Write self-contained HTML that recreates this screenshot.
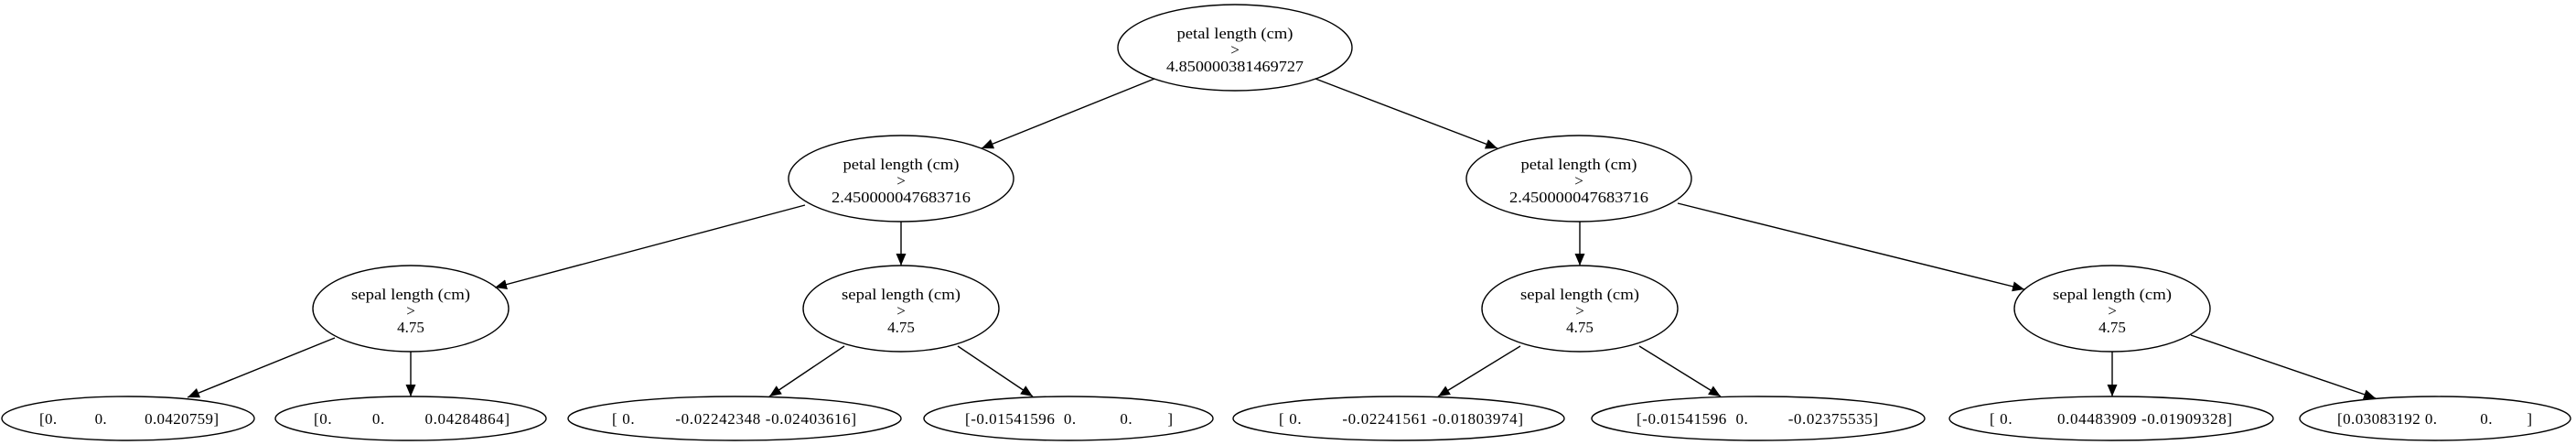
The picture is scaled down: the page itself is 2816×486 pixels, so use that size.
<!DOCTYPE html>
<html><head><meta charset="utf-8"><style>
html,body{margin:0;padding:0;background:#fff;}
svg{display:block;}
text{font-family:"Liberation Serif",serif;font-size:17px;fill:#000;white-space:pre;}
</style></head><body>
<svg width="2816" height="486" viewBox="0 0 2816 486" xmlns="http://www.w3.org/2000/svg">
<defs>
<marker id="a" markerUnits="userSpaceOnUse" markerWidth="14" markerHeight="12" refX="13" refY="5.5" orient="auto">
<path d="M0,0 L13,5.5 L0,11 Z" fill="#000"/>
</marker>
</defs>
<g fill="none" stroke="#000" stroke-width="1.4">
<ellipse cx="1350" cy="52" rx="128" ry="47"/>
<ellipse cx="985" cy="195" rx="123" ry="47"/>
<ellipse cx="1726" cy="195" rx="123" ry="47"/>
<ellipse cx="449" cy="337" rx="107" ry="47"/>
<ellipse cx="985" cy="337" rx="107" ry="47"/>
<ellipse cx="1727" cy="337" rx="107" ry="47"/>
<ellipse cx="2309" cy="337" rx="107" ry="47"/>
<ellipse cx="140" cy="457" rx="138" ry="24"/>
<ellipse cx="449" cy="457" rx="148" ry="24"/>
<ellipse cx="803" cy="457" rx="182" ry="24"/>
<ellipse cx="1168" cy="457" rx="158" ry="24"/>
<ellipse cx="1529" cy="457" rx="181" ry="24"/>
<ellipse cx="1922" cy="457" rx="182" ry="24"/>
<ellipse cx="2308" cy="457" rx="177" ry="24"/>
<ellipse cx="2662" cy="457" rx="148" ry="24"/>
</g>
<g stroke="#000" stroke-width="1.4" marker-end="url(#a)">
<line x1="1262" y1="86" x2="1073" y2="162"/>
<line x1="1438" y1="86" x2="1637" y2="162"/>
<line x1="880" y1="224" x2="541" y2="314"/>
<line x1="985" y1="242" x2="985" y2="290"/>
<line x1="1727" y1="242" x2="1727" y2="290"/>
<line x1="1834" y1="222" x2="2213" y2="316"/>
<line x1="366" y1="369" x2="205" y2="434"/>
<line x1="449" y1="384" x2="449" y2="433"/>
<line x1="923" y1="378" x2="841" y2="433"/>
<line x1="1047" y1="378" x2="1129" y2="433"/>
<line x1="1662" y1="378" x2="1572" y2="433"/>
<line x1="1792" y1="378" x2="1881" y2="433"/>
<line x1="2309" y1="384" x2="2309" y2="433"/>
<line x1="2395" y1="366" x2="2597" y2="435"/>
</g>
<g text-anchor="middle">
<text x="1350" y="42" textLength="127" lengthAdjust="spacingAndGlyphs">petal length (cm)</text>
<text x="1350" y="60">&gt;</text>
<text x="1350" y="78" textLength="150" lengthAdjust="spacingAndGlyphs">4.850000381469727</text>

<text x="985" y="185" textLength="127" lengthAdjust="spacingAndGlyphs">petal length (cm)</text>
<text x="985" y="203">&gt;</text>
<text x="985" y="221" textLength="152" lengthAdjust="spacingAndGlyphs">2.450000047683716</text>
<text x="1726" y="185" textLength="127" lengthAdjust="spacingAndGlyphs">petal length (cm)</text>
<text x="1726" y="203">&gt;</text>
<text x="1726" y="221" textLength="152" lengthAdjust="spacingAndGlyphs">2.450000047683716</text>

<text x="449" y="327" textLength="130" lengthAdjust="spacingAndGlyphs">sepal length (cm)</text>
<text x="449" y="345">&gt;</text>
<text x="449" y="363">4.75</text>
<text x="985" y="327" textLength="130" lengthAdjust="spacingAndGlyphs">sepal length (cm)</text>
<text x="985" y="345">&gt;</text>
<text x="985" y="363">4.75</text>
<text x="1727" y="327" textLength="130" lengthAdjust="spacingAndGlyphs">sepal length (cm)</text>
<text x="1727" y="345">&gt;</text>
<text x="1727" y="363">4.75</text>
<text x="2309" y="327" textLength="130" lengthAdjust="spacingAndGlyphs">sepal length (cm)</text>
<text x="2309" y="345">&gt;</text>
<text x="2309" y="363">4.75</text>
</g>
<g>
<text x="43" y="463" textLength="196" lengthAdjust="spacing" xml:space="preserve">[0.         0.         0.0420759]</text>
<text x="343" y="463" textLength="214" lengthAdjust="spacing" xml:space="preserve">[0.         0.         0.04284864]</text>
<text x="669" y="463" textLength="267" lengthAdjust="spacing" xml:space="preserve">[ 0.         -0.02242348 -0.02403616]</text>
<text x="1055" y="463" textLength="227" lengthAdjust="spacing" xml:space="preserve">[-0.01541596  0.          0.        ]</text>
<text x="1398" y="463" textLength="267" lengthAdjust="spacing" xml:space="preserve">[ 0.         -0.02241561 -0.01803974]</text>
<text x="1789" y="463" textLength="264" lengthAdjust="spacing" xml:space="preserve">[-0.01541596  0.         -0.02375535]</text>
<text x="2175" y="463" textLength="265" lengthAdjust="spacing" xml:space="preserve">[ 0.          0.04483909 -0.01909328]</text>
<text x="2555" y="463" textLength="213" lengthAdjust="spacing" xml:space="preserve">[0.03083192 0.          0.        ]</text>
</g>
</svg>
</body></html>
